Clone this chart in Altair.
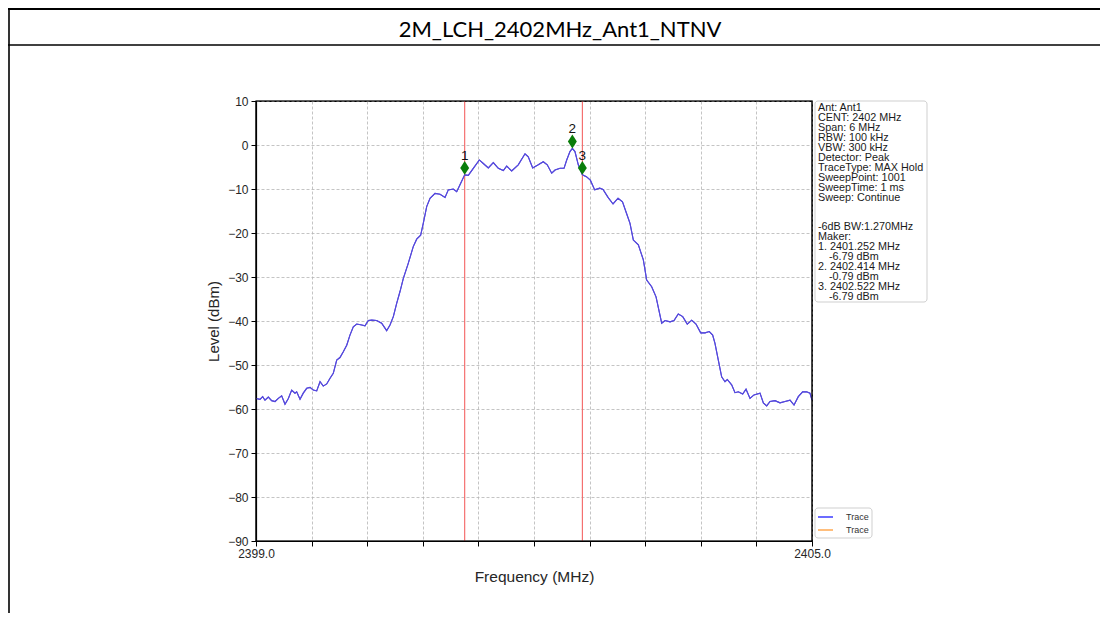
import altair as alt
import pandas as pd

title_text = "2M_LCH_2402MHz_Ant1_NTNV"

trace_freq = [
    2399.000, 2399.043, 2399.072, 2399.097, 2399.133, 2399.169, 2399.205, 2399.241,
    2399.277, 2399.313, 2399.349, 2399.385, 2399.421, 2399.439, 2399.475, 2399.510,
    2399.547, 2399.583, 2399.618, 2399.655, 2399.691, 2399.726, 2399.763, 2399.799,
    2399.834, 2399.871, 2399.906, 2399.942, 2399.979, 2400.014, 2400.050, 2400.087,
    2400.141, 2400.176, 2400.212, 2400.249, 2400.302, 2400.356, 2400.410, 2400.446,
    2400.482, 2400.518, 2400.554, 2400.590, 2400.643, 2400.697, 2400.734, 2400.777,
    2400.805, 2400.842, 2400.878, 2400.932, 2400.986, 2401.040, 2401.075, 2401.129,
    2401.166, 2401.209, 2401.252, 2401.291, 2401.345, 2401.410, 2401.453, 2401.507,
    2401.561, 2401.615, 2401.669, 2401.705, 2401.759, 2401.830, 2401.903, 2401.938,
    2401.986, 2402.046, 2402.100, 2402.143, 2402.191, 2402.227, 2402.281, 2402.324,
    2402.353, 2402.388, 2402.414, 2402.442, 2402.478, 2402.522, 2402.565, 2402.608,
    2402.655, 2402.709, 2402.745, 2402.799, 2402.853, 2402.907, 2402.955, 2402.998,
    2403.036, 2403.072, 2403.126, 2403.180, 2403.216, 2403.270, 2403.317, 2403.378,
    2403.414, 2403.468, 2403.511, 2403.557, 2403.605, 2403.654, 2403.702, 2403.748,
    2403.799, 2403.845, 2403.892, 2403.928, 2403.953, 2403.989, 2404.025, 2404.061,
    2404.086, 2404.133, 2404.169, 2404.205, 2404.252, 2404.288, 2404.331, 2404.374,
    2404.439, 2404.475, 2404.511, 2404.547, 2404.601, 2404.655, 2404.709, 2404.763,
    2404.806, 2404.852, 2404.899, 2404.942, 2404.978, 2405.000,
]
trace_level = [
    -57.6, -57.8, -57.2, -58.0, -57.3, -58.1, -58.3, -57.6,
    -57.0, -58.9, -57.6, -55.7, -56.4, -56.1, -57.8, -56.4,
    -55.3, -55.1, -55.7, -55.9, -53.8, -54.8, -54.3, -53.0,
    -51.9, -48.9, -48.3, -47.0, -45.5, -43.2, -41.3, -40.7,
    -40.9, -41.1, -39.9, -39.8, -39.9, -40.5, -42.2, -40.9,
    -39.0, -36.0, -33.3, -30.3, -26.9, -23.1, -21.4, -20.5,
    -17.8, -14.0, -12.1, -11.0, -11.2, -11.9, -10.2, -10.0,
    -10.6, -8.7, -6.79, -6.9, -5.3, -3.4, -4.2, -5.2,
    -4.0, -5.3, -5.8, -4.8, -5.9, -4.5, -2.0, -2.7,
    -5.2, -4.5, -3.8, -4.5, -6.4, -5.7, -5.3, -5.3,
    -3.4, -1.5, -0.79, -1.5, -4.5, -6.79, -7.2, -8.0,
    -10.2, -9.8, -10.1, -11.9, -13.4, -12.1, -12.9, -15.5,
    -17.8, -21.6, -22.7, -26.1, -30.7, -32.2, -34.5, -40.5,
    -39.9, -40.2, -39.9, -38.4, -39.0, -40.7, -39.8, -40.7,
    -42.7, -42.7, -42.4, -43.2, -45.1, -48.9, -52.7, -53.8,
    -53.3, -54.5, -56.3, -56.1, -56.6, -55.5, -57.6, -56.8,
    -56.4, -58.6, -59.3, -58.3, -58.1, -58.6, -58.3, -58.0,
    -59.1, -57.2, -56.1, -56.1, -56.4, -58.0,
]

marker_id = ["1", "2", "3"]
marker_freq = [2401.252, 2402.414, 2402.522]
marker_level = [-6.79, -0.79, -6.79]
bw_edges = [2401.252, 2402.522]

x_ticks = [2399.0, 2399.6, 2400.2, 2400.8, 2401.4, 2402.0, 2402.6, 2403.2, 2403.8, 2404.4, 2405.0]
y_ticks = [-90, -80, -70, -60, -50, -40, -30, -20, -10, 0, 10]

info_settings = [
    "Ant: Ant1", "CENT: 2402 MHz", "Span: 6 MHz", "RBW: 100 kHz", "VBW: 300 kHz",
    "Detector: Peak", "TraceType: MAX Hold", "SweepPoint: 1001", "SweepTime: 1 ms",
    "Sweep: Continue",
]
info_bw = ["-6dB BW:1.270MHz", "Maker:"]
info_marker_freq = ["1. 2401.252 MHz", "2. 2402.414 MHz", "3. 2402.522 MHz"]
info_marker_level = ["-6.79 dBm", "-0.79 dBm", "-6.79 dBm"]
legend_labels = ["Trace", "Trace"]
legend_colors = ["#3b3bff", "#ffa850"]

FONT = "Liberation Sans"
TEXT_C = "#262626"
LH = 9.95

trace_df = pd.DataFrame({"freq": trace_freq, "level": trace_level})
marker_df = pd.DataFrame({"id": marker_id, "freq": marker_freq, "level": marker_level})
edge_df = pd.DataFrame({"freq": bw_edges})
one = pd.DataFrame({"k": [0]})

xscale = alt.Scale(domain=[2399, 2405], nice=False, zero=False)
yscale = alt.Scale(domain=[-90, 10], nice=False, zero=False)

xaxis = alt.Axis(
    values=x_ticks,
    labelExpr="(datum.value == 2399 || datum.value == 2405) ? format(datum.value, '.1f') : ''",
    title="Frequency (MHz)", grid=True, gridDash=[3, 2], gridColor="#b5b5b5", gridWidth=0.8,
    tickSize=5, tickColor="black", tickWidth=1, domainColor="black", domainWidth=1.2,
    labelFont=FONT, labelFontSize=12, labelColor=TEXT_C, labelPadding=2, labelFlush=False,
    titleFont=FONT, titleFontSize=15.5, titleFontWeight="normal", titleColor=TEXT_C,
    titleY=35, titleBaseline="middle",
)
yaxis = alt.Axis(
    values=y_ticks,
    labelExpr="replace(datum.label, '-', '\u2212')",
    title="Level (dBm)", grid=True, gridDash=[3, 2], gridColor="#b5b5b5", gridWidth=0.8,
    tickSize=5, tickColor="black", tickWidth=1, domainColor="black", domainWidth=1.2,
    labelFont=FONT, labelFontSize=12, labelColor=TEXT_C, labelPadding=3,
    titleFont=FONT, titleFontSize=15, titleFontWeight="normal", titleColor=TEXT_C,
    titleX=-43, titleY=220, titleAngle=270, titleAlign="center", titleBaseline="middle",
)

trace = alt.Chart(trace_df).mark_line(color="#5549dc", strokeWidth=1.1).encode(
    x=alt.X("freq:Q", scale=xscale, axis=xaxis),
    y=alt.Y("level:Q", scale=yscale, axis=yaxis),
)
edges = alt.Chart(edge_df).mark_rule(color="#f46464", strokeWidth=1.1).encode(
    x=alt.X("freq:Q", scale=xscale)
)
diamonds = alt.Chart(marker_df).mark_point(
    shape="M0,-1.25L0.8,0L0,1.25L-0.8,0Z", filled=True, size=125, yOffset=-7,
    color="#0a7d0a", opacity=1,
).encode(x=alt.X("freq:Q", scale=xscale), y=alt.Y("level:Q", scale=yscale))
labels = alt.Chart(marker_df).mark_text(
    dy=-19, fontSize=13.5, font=FONT, color="#111111", baseline="middle"
).encode(x=alt.X("freq:Q", scale=xscale), y=alt.Y("level:Q", scale=yscale), text="id:N")

# plot frame drawn on top of the grid
frame = alt.Chart(one).mark_rect(fill=None, stroke="black", strokeWidth=1.2).encode(
    x=alt.value(0), x2=alt.value(556), y=alt.value(0), y2=alt.value(440)
)

# info box
info_box = alt.Chart(one).mark_rect(
    fill="white", stroke="#cfcfcf", strokeWidth=1, cornerRadius=3
).encode(x=alt.value(559), x2=alt.value(671), y=alt.value(0), y2=alt.value(201))


def text_block(lines, x, y, lh):
    return alt.Chart(one).mark_text(
        align="left", baseline="top", font=FONT, fontSize=10.8, lineHeight=lh,
        lineBreak="\n", color="#1a1a1a",
    ).encode(x=alt.value(x), y=alt.value(y), text=alt.value("\n".join(lines)))


info_a = text_block(info_settings, 562, 1, LH)
info_b = text_block(info_bw, 562, 1 + 12 * LH, LH)
info_c = text_block(info_marker_freq, 562, 1 + 14 * LH, 2 * LH)
info_d = text_block(info_marker_level, 573, 1 + 15 * LH, 2 * LH)

# legend
leg_box = alt.Chart(one).mark_rect(
    fill="white", stroke="#cfcfcf", strokeWidth=1, cornerRadius=3
).encode(x=alt.value(559), x2=alt.value(616), y=alt.value(407), y2=alt.value(437))
leg_layers = []
for i, (lab, col) in enumerate(zip(legend_labels, legend_colors)):
    yy = 416 + 13 * i
    leg_layers.append(
        alt.Chart(one).mark_rule(color=col, strokeWidth=1.5).encode(
            x=alt.value(562), x2=alt.value(577), y=alt.value(yy)
        )
    )
    leg_layers.append(
        alt.Chart(one).mark_text(
            align="left", baseline="middle", font=FONT, fontSize=9, color="#333333"
        ).encode(x=alt.value(590), y=alt.value(yy), text=alt.value(lab))
    )

# document table frame and title
title = alt.Chart(one).mark_text(
    align="center", baseline="middle", font="Lato", fontSize=22, color="black"
).encode(x=alt.value(304), y=alt.value(-71), text=alt.value(title_text))
line_top = alt.Chart(one).mark_rule(color="black", strokeWidth=2).encode(
    x=alt.value(-248), x2=alt.value(844), y=alt.value(-92)
)
line_mid = alt.Chart(one).mark_rule(color="black", strokeWidth=1.6).encode(
    x=alt.value(-248), x2=alt.value(844), y=alt.value(-56)
)
line_left = alt.Chart(one).mark_rule(color="black", strokeWidth=1.6).encode(
    x=alt.value(-247), y=alt.value(-93), y2=alt.value(550)
)

chart = alt.layer(
    trace, edges, trace, frame, diamonds, labels, info_box, info_a, info_b, info_c, info_d,
    leg_box, *leg_layers, title, line_top, line_mid, line_left,
).properties(
    width=556, height=440,
    padding={"left": 248, "top": 93, "right": 288, "bottom": 72},
    autosize=alt.AutoSizeParams(type="none"),
    background="white",
).configure_view(stroke="black", strokeWidth=1.2)

chart.save("out.html", embed_options={"renderer": "svg", "actions": False})
